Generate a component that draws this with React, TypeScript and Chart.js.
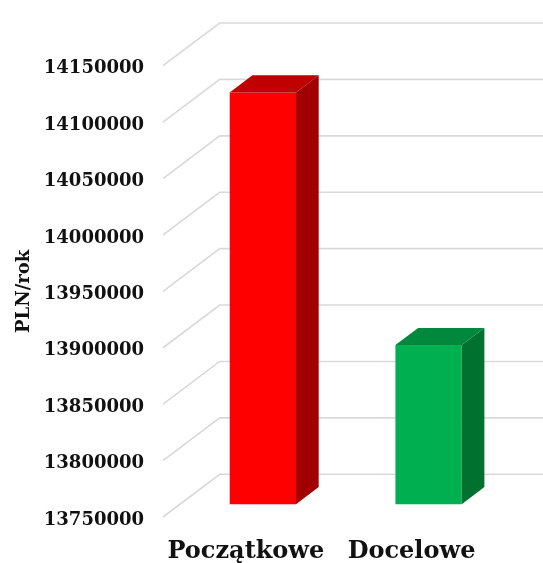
import React, { useEffect, useRef } from "react";
import { Chart, registerables } from "chart.js";

Chart.register(...registerables);

const categories = ["Początkowe", "Docelowe"];
const values = [14115000, 13891000];
const frontColors = ["#FF0000", "#00B050"];
const topColors = ["#C00000", "#00893D"];
const sideColors = ["#A00000", "#00712F"];
const yMin = 13750000;
const yMax = 14150000;
const yStep = 50000;
const yTitle = "PLN/rok";

// 3D projection of the depth axis
const DX = 56.7;
const DY = -42.7;
const BAR_FRONT = 0.3;
const BAR_DEPTH = 0.4;

const threeD = {
  id: "threeD",
  beforeDatasetsDraw(chart: any) {
    const { ctx, chartArea, scales } = chart;
    const ys = scales.y;
    ctx.save();
    ctx.strokeStyle = "#d9d9d9";
    ctx.lineWidth = 1.6;
    for (const t of ys.ticks) {
      const y = ys.getPixelForValue(t.value);
      ctx.beginPath();
      ctx.moveTo(chartArea.left, y);
      ctx.lineTo(chartArea.left + DX, y + DY);
      ctx.lineTo(chart.width, y + DY);
      ctx.stroke();
    }
    ctx.restore();
    ctx.save();
    ctx.translate(BAR_FRONT * DX, BAR_FRONT * DY);
  },
  afterDatasetsDraw(chart: any) {
    const { ctx } = chart;
    const meta = chart.getDatasetMeta(0);
    const bdx = BAR_DEPTH * DX;
    const bdy = BAR_DEPTH * DY;
    meta.data.forEach((el: any, i: number) => {
      const { x, y, base, width } = el.getProps(["x", "y", "base", "width"], true);
      const l = x - width / 2;
      const r = x + width / 2;
      // top face
      ctx.fillStyle = topColors[i];
      ctx.beginPath();
      ctx.moveTo(l, y);
      ctx.lineTo(l + bdx, y + bdy);
      ctx.lineTo(r + bdx, y + bdy);
      ctx.lineTo(r, y);
      ctx.closePath();
      ctx.fill();
      // side face
      ctx.fillStyle = sideColors[i];
      ctx.beginPath();
      ctx.moveTo(r, y);
      ctx.lineTo(r + bdx, y + bdy);
      ctx.lineTo(r + bdx, base + bdy);
      ctx.lineTo(r, base);
      ctx.closePath();
      ctx.fill();
    });
    ctx.restore();
  },
};

export default function App() {
  const ref = useRef<HTMLCanvasElement>(null);
  useEffect(() => {
    document.body.style.margin = "0";
    const chart = new Chart(ref.current!, {
      type: "bar",
      data: {
        labels: categories,
        datasets: [
          {
            data: values,
            base: yMin,
            backgroundColor: frontColors,
            borderWidth: 0,
            barPercentage: 0.4,
            categoryPercentage: 1,
            clip: false as any,
          } as any,
        ],
      },
      plugins: [threeD],
      options: {
        animation: false,
        responsive: true,
        maintainAspectRatio: false,
        layout: { padding: { top: 65.7, right: 48.6, left: 0, bottom: 0 } },
        plugins: { legend: { display: false }, tooltip: { enabled: false } },
        scales: {
          x: {
            grid: { display: false, drawTicks: false },
            border: { display: false },
            ticks: {
              color: "#111",
              padding: 20,
              font: { family: "'DejaVu Serif'", size: 24, weight: "bold" },
            },
            afterFit(scale: any) {
              scale.height = 46;
            },
          },
          y: {
            min: yMin,
            max: yMax,
            grid: { display: false, drawTicks: false },
            border: { display: false },
            ticks: {
              stepSize: yStep,
              color: "#111",
              padding: 19,
              font: { family: "'DejaVu Serif'", size: 18, weight: "bold", lineHeight: "6px" },
              callback: (v: any) => ["", String(v)],
            },
            title: {
              display: true,
              text: yTitle,
              color: "#111",
              padding: { top: 14, bottom: 0 },
              font: { family: "'DejaVu Serif'", size: 18, weight: "bold" },
            },
            afterFit(scale: any) {
              scale.width = 163;
            },
          },
        },
      },
    });
    return () => chart.destroy();
  }, []);
  return (
    <div style={{ width: 543, height: 563, position: "relative" }}>
      <canvas ref={ref} />
    </div>
  );
}
